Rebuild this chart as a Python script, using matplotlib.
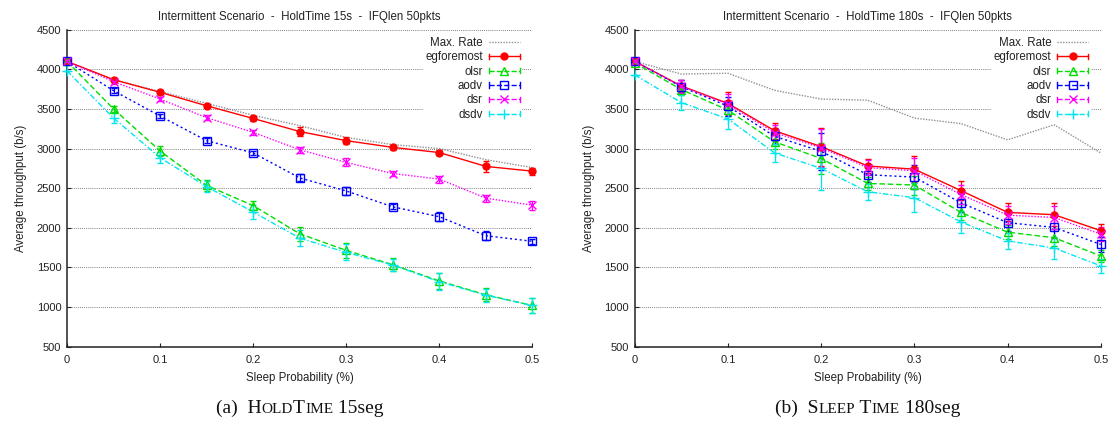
import matplotlib
matplotlib.use("Agg")
import matplotlib.pyplot as plt
from matplotlib.lines import Line2D
from matplotlib.legend_handler import HandlerBase

plt.rcParams["font.family"] = ["Liberation Sans", "DejaVu Sans"]

# ---------------------------------------------------------------- data
sleep_prob = [0.0, 0.05, 0.10, 0.15, 0.20, 0.25, 0.30, 0.35, 0.40, 0.45, 0.50]

# HoldTime 15s
a_max_rate = [4100, 3870, 3720, 3570, 3420, 3290, 3140, 3050, 3000, 2860, 2760]
a_egforemost = [4100, 3870, 3710, 3540, 3380, 3215, 3100, 3015, 2950, 2775, 2715]
a_egforemost_err = [0, 20, 20, 25, 35, 55, 40, 35, 30, 65, 45]
a_olsr = [4100, 3500, 2970, 2535, 2280, 1925, 1715, 1535, 1330, 1155, 1020]
a_olsr_err = [0, 40, 60, 70, 60, 90, 90, 80, 100, 80, 90]
a_aodv = [4100, 3730, 3410, 3100, 2945, 2630, 2465, 2265, 2140, 1900, 1830]
a_aodv_err = [0, 30, 30, 30, 30, 45, 50, 30, 60, 60, 35]
a_dsr = [4100, 3845, 3625, 3390, 3205, 2985, 2825, 2685, 2615, 2375, 2285]
a_dsr_err = [0, 30, 30, 30, 30, 40, 50, 35, 45, 45, 55]
a_dsdv = [3980, 3385, 2885, 2520, 2200, 1870, 1690, 1530, 1320, 1150, 1020]
a_dsdv_err = [0, 60, 70, 70, 90, 100, 100, 80, 110, 80, 90]

# HoldTime 180s
b_max_rate = [4100, 3940, 3950, 3735, 3625, 3610, 3385, 3315, 3110, 3300, 2945]
b_egforemost = [4100, 3790, 3570, 3225, 3025, 2780, 2740, 2470, 2195, 2165, 1965]
b_egforemost_err = [0, 75, 150, 100, 240, 90, 160, 120, 115, 145, 85]
b_olsr = [4080, 3745, 3485, 3085, 2875, 2560, 2540, 2195, 1945, 1875, 1645]
b_olsr_err = [0, 70, 80, 90, 200, 80, 120, 100, 90, 110, 80]
b_aodv = [4100, 3780, 3535, 3155, 2965, 2670, 2640, 2315, 2065, 2005, 1790]
b_aodv_err = [0, 80, 120, 100, 230, 90, 150, 110, 110, 130, 90]
b_dsr = [4100, 3785, 3560, 3200, 3010, 2760, 2720, 2420, 2160, 2130, 1920]
b_dsr_err = [0, 80, 130, 100, 240, 90, 160, 120, 115, 140, 85]
b_dsdv = [3930, 3580, 3375, 2945, 2750, 2455, 2380, 2075, 1835, 1745, 1520]
b_dsdv_err = [0, 90, 130, 110, 270, 100, 180, 140, 100, 140, 90]

series_names = ["egforemost", "olsr", "aodv", "dsr", "dsdv"]
panel_titles = [
    "Intermittent Scenario  -  HoldTime 15s  -  IFQlen 50pkts",
    "Intermittent Scenario  -  HoldTime 180s  -  IFQlen 50pkts",
]
y_ticks = [500, 1000, 1500, 2000, 2500, 3000, 3500, 4000, 4500]
x_ticks = [0, 0.1, 0.2, 0.3, 0.4, 0.5]
x_tick_labels = ["0", "0.1", "0.2", "0.3", "0.4", "0.5"]

# ---------------------------------------------------------------- styles
styles = {
    "egforemost": dict(color="#ff0000", ls="-", marker="o", mfc="#ff0000", ms=5),
    "olsr": dict(color="#00dd00", ls=(0, (4, 2)), marker="^", mfc="none", ms=5.5),
    "aodv": dict(color="#0000ff", ls=(0, (1.5, 2)), marker="s", mfc="none", ms=5.5),
    "dsr": dict(color="#ff00ff", ls=(0, (1, 1.2)), marker="x", mfc="none", ms=5.5),
    "dsdv": dict(color="#00e5ee", ls=(0, (4, 1.5, 1, 1.5)), marker="+", mfc="none", ms=7),
}
max_rate_style = dict(color="#909090", ls=(0, (1, 1)), lw=1.0)


class CappedLineHandler(HandlerBase):
    """Key sample: horizontal line with a marker in the middle and caps at both ends."""

    def create_artists(self, legend, orig_handle, xdescent, ydescent,
                       width, height, fontsize, trans):
        y = height / 2 - ydescent
        x0, x1 = -xdescent, width - xdescent
        c = orig_handle.get_color()
        line = Line2D([x0, x1], [y, y], color=c, ls=orig_handle.get_linestyle(),
                      lw=orig_handle.get_linewidth())
        mark = Line2D([(x0 + x1) / 2], [y], ls="none", marker=orig_handle.get_marker(),
                      color=c, mfc=orig_handle.get_markerfacecolor(),
                      ms=orig_handle.get_markersize(), mew=1.0)
        h = height * 0.32
        cap0 = Line2D([x0, x0], [y - h, y + h], color=c, lw=1.0)
        cap1 = Line2D([x1, x1], [y - h, y + h], color=c, lw=1.0)
        arts = [line, mark, cap0, cap1]
        for a in arts:
            a.set_transform(trans)
        return arts


fig = plt.figure(figsize=(11.13, 4.23), dpi=100)
ax_a = fig.add_axes([0.0602, 0.1804, 0.4181, 0.7494])
ax_b = fig.add_axes([0.5703, 0.1804, 0.4187, 0.7494])

panels = [
    (ax_a, a_max_rate,
     [a_egforemost, a_olsr, a_aodv, a_dsr, a_dsdv],
     [a_egforemost_err, a_olsr_err, a_aodv_err, a_dsr_err, a_dsdv_err]),
    (ax_b, b_max_rate,
     [b_egforemost, b_olsr, b_aodv, b_dsr, b_dsdv],
     [b_egforemost_err, b_olsr_err, b_aodv_err, b_dsr_err, b_dsdv_err]),
]

for i, (ax, max_rate, values, errors) in enumerate(panels):
    handles = []
    (mr,) = ax.plot(sleep_prob, max_rate, **max_rate_style, zorder=2)
    handles.append(mr)
    for name, vals, errs in zip(series_names, values, errors):
        st = styles[name]
        ax.errorbar(sleep_prob, vals, yerr=errs, color=st["color"], ls=st["ls"],
                    lw=1.0, marker=st["marker"], mfc=st["mfc"], ms=st["ms"], mew=1.0,
                    elinewidth=0.9, capsize=2, capthick=0.9, zorder=3,
                    clip_on=False)
        handles.append(Line2D([], [], color=st["color"], ls=st["ls"], lw=1.0,
                              marker=st["marker"], mfc=st["mfc"], ms=st["ms"]))

    ax.set_xlim(0, 0.5)
    ax.set_ylim(500, 4500)
    ax.set_xticks(x_ticks)
    ax.set_xticklabels(x_tick_labels)
    ax.set_yticks(y_ticks)
    ax.tick_params(direction="in", length=3, width=0.8, labelsize=8,
                   colors="#222222", pad=4)
    ax.tick_params(axis="x", pad=6)
    ax.grid(axis="y", color="#555555", ls=(0, (1, 1.5)), lw=0.6)
    for side in ("top", "right"):
        ax.spines[side].set_visible(False)
    for side in ("left", "bottom"):
        ax.spines[side].set_linewidth(1.1)
        ax.spines[side].set_color("#222222")
    ax.set_title(panel_titles[i], fontsize=8.3, color="#222222", pad=7)
    ax.set_xlabel("Sleep Probability (%)", fontsize=8.3, color="#222222", labelpad=5)
    ax.set_ylabel("Average throughput (b/s)", fontsize=8.3, color="#222222", labelpad=7)

    # protocol entries get capped key samples, Max. Rate a plain line
    hm = {h: CappedLineHandler() for h in handles[1:]}
    leg = ax.legend(handles, ["Max. Rate"] + series_names, loc="upper right",
                    bbox_to_anchor=(0.978, 0.984), markerfirst=False, fontsize=8.3,
                    frameon=True, facecolor="white", edgecolor="none", framealpha=1,
                    fancybox=False, handlelength=2.7, handletextpad=0.5,
                    labelspacing=0.2, borderpad=0.2, borderaxespad=0.0,
                    handler_map=hm)
    for t in leg.get_texts():
        t.set_color("#222222")
    leg.set_zorder(5)

# ---------------------------------------------------------------- captions (small caps)
fig.canvas.draw()
renderer = fig.canvas.get_renderer()


def small_caps_caption(center_x, y, pieces):
    """pieces: list of (text, size) drawn one after another, centred at center_x."""
    arts = []
    for txt, size in pieces:
        arts.append(fig.text(0, y, txt, fontsize=size, family="Liberation Serif",
                             color="#111111", va="baseline", ha="left"))
    widths = [a.get_window_extent(renderer).width for a in arts]
    total = sum(widths)
    x = center_x * fig.bbox.width - total / 2
    for a, w in zip(arts, widths):
        a.set_x(x / fig.bbox.width)
        x += w


big, small = 14, 11
small_caps_caption(0.2693, 0.024,
                   [("(a)  H", big), ("OLD", small), ("T", big), ("IME", small),
                    (" 15seg", big)])
small_caps_caption(0.7797, 0.024,
                   [("(b)  S", big), ("LEEP", small), (" T", big), ("IME", small),
                    (" 180seg", big)])

fig.savefig("out.png", dpi=100)
